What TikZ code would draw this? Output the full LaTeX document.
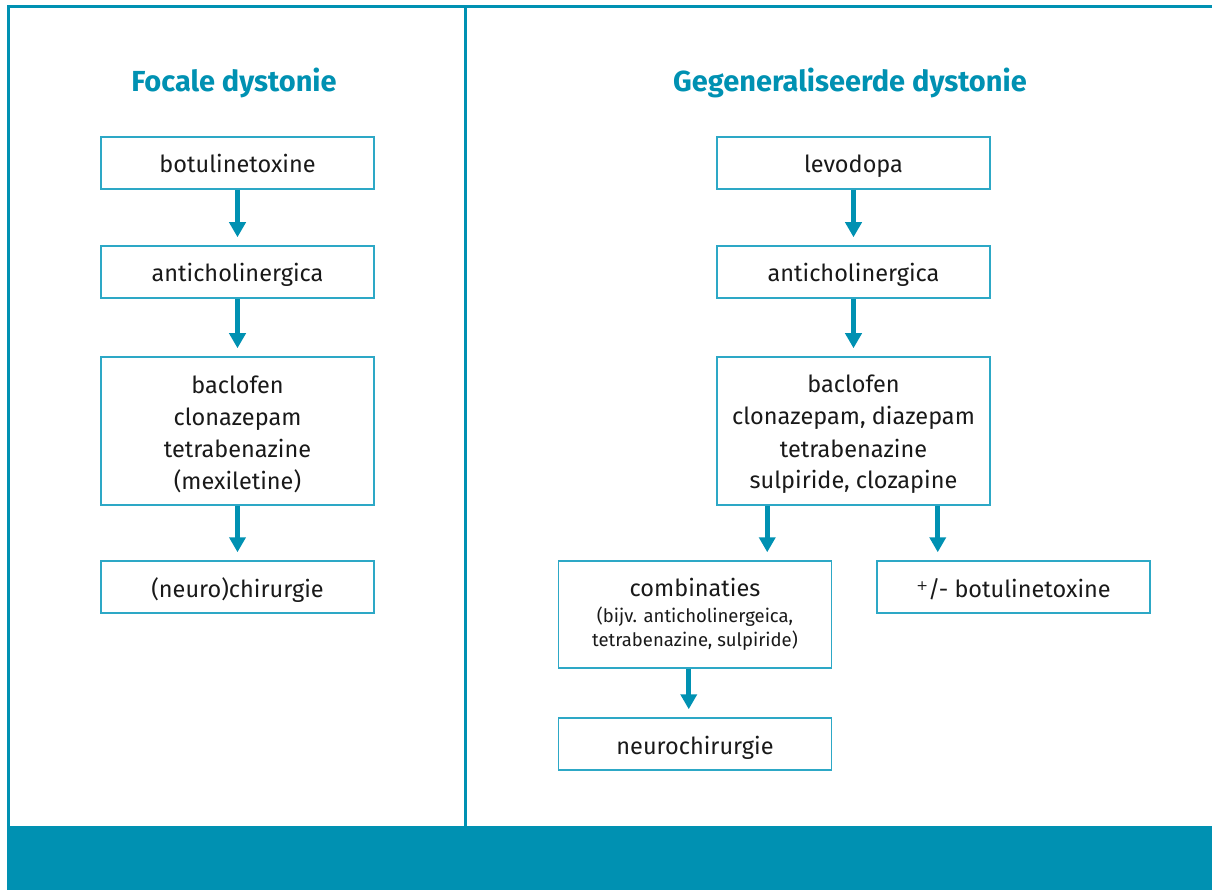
\documentclass[tikz,border=0pt]{standalone}
\usepackage{fontspec}
\setmainfont{Fira Sans}
\newfontfamily\plusfont{DejaVu Sans}
\usetikzlibrary{arrows.meta}
\definecolor{teal1}{RGB}{0,145,178}
\definecolor{boxc}{RGB}{45,168,198}
\definecolor{txt}{RGB}{25,25,25}
\newcommand{\firststrut}{\rule{0pt}{25pt}}
\begin{document}
\begin{tikzpicture}[x=1pt,y=-1pt,
  boxbase/.style={draw=boxc, line width=1.5pt, minimum width=273pt, align=center, text=txt,
    font=\fontsize{23.5}{32}\selectfont, inner sep=0pt},
  box/.style={boxbase, minimum height=52pt, text height=20pt, text depth=0pt},
  mbox/.style={boxbase},
  arr/.style={draw=teal1, line width=5pt, shorten >=8pt, -{Triangle[length=15pt,width=16pt]}},
  head/.style={text=teal1, font=\fontsize{29}{32}\selectfont\bfseries}]
\useasboundingbox (0,0) rectangle (1212,890);
\fill[teal1] (7,826) rectangle (1212,890);
\draw[teal1, line width=3pt] (8,826) -- (8,7) -- (1212,7);
\draw[teal1, line width=3pt] (465,7) -- (465,826);

\node[head] (h1) at (234,83) {Focale dystonie};
\node[head] (h2) at (850,83) {Gegeneraliseerde dystonie};

% left column
\node[box] (l1) at (237.5,163) {botulinetoxine};
\node[box] (l2) at (237.5,272) {anticholinergica};
\node[mbox, minimum height=148pt] (l3) at (237.5,431) {\firststrut baclofen\\clonazepam\\tetrabenazine\\(mexiletine)};
\node[box] (l4) at (237.5,587) {(neuro)chirurgie};

% right column
\node[box] (r1) at (853.5,163) {levodopa};
\node[box] (r2) at (853.5,272) {anticholinergica};
\node[mbox, minimum height=148pt] (r3) at (853.5,431) {\firststrut baclofen\\clonazepam, diazepam\\tetrabenazine\\sulpiride, clozapine};
\node[mbox, minimum height=107pt] (c1) at (695,614.5) {combinaties\\[-6pt]{\fontsize{18.5}{24}\selectfont (bijv. anticholinergeica,}\\[-8pt]{\fontsize{18.5}{24}\selectfont tetrabenazine, sulpiride)}};
\node[box] (b1) at (1013.5,587) {\raisebox{7pt}{\plusfont\fontsize{14}{14}\selectfont +}/- botulinetoxine};
\node[box] (n1) at (695,744) {neurochirurgie};

% arrows
\draw[arr] (l1.south) -- (l2.north);
\draw[arr] (l2.south) -- (l3.north);
\draw[arr] (l3.south) -- (l4.north);
\draw[arr] (r1.south) -- (r2.north);
\draw[arr] (r2.south) -- (r3.north);
\draw[arr] ([xshift=51pt]r3.south west) -- ([xshift=51pt]r3.south west |- c1.north);
\draw[arr] ([xshift=-53pt]r3.south east) -- ([xshift=-53pt]r3.south east |- b1.north);
\draw[arr] ([xshift=131pt]c1.south west) -- ([xshift=131pt]c1.south west |- n1.north);
\end{tikzpicture}
\end{document}
